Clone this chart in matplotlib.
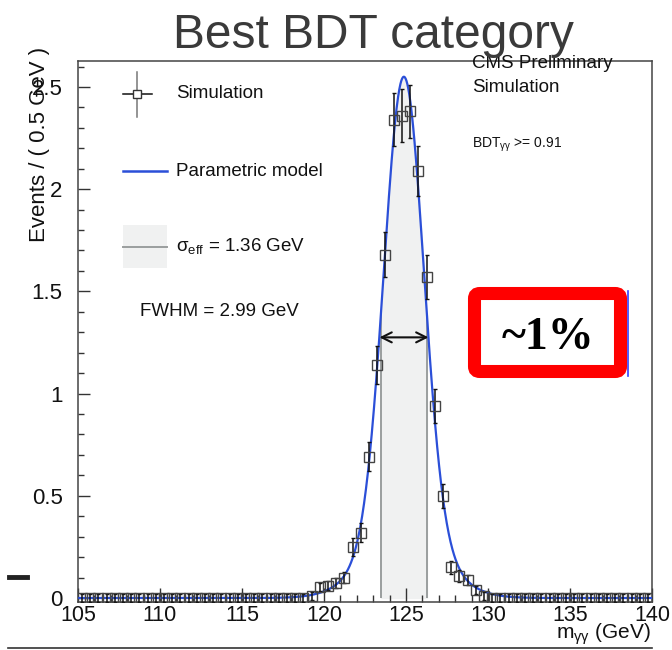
import numpy as np
import matplotlib
matplotlib.use('Agg')
import matplotlib.pyplot as plt
from matplotlib.lines import Line2D
from matplotlib.patches import FancyBboxPatch, Rectangle

plt.rcParams['font.family'] = ['Liberation Sans', 'DejaVu Sans']
plt.rcParams['mathtext.fontset'] = 'custom'
plt.rcParams['mathtext.rm'] = 'Liberation Sans'

# simulated diphoton mass histogram, 0.5 GeV bins from 105 to 140
bin_lo, bin_hi, bin_w = 105.0, 140.0, 0.5
peak_centers = [118.75, 119.25, 119.75, 120.25, 120.75, 121.25, 121.75, 122.25,
                122.75, 123.25, 123.75, 124.25, 124.75, 125.25, 125.75, 126.25,
                126.75, 127.25, 127.75, 128.25, 128.75, 129.25, 129.75, 130.25]
peak_values = [0.0, 0.01, 0.054, 0.06, 0.073, 0.098, 0.25, 0.32,
               0.69, 1.14, 1.68, 2.34, 2.36, 2.38, 2.09, 1.57,
               0.94, 0.50, 0.15, 0.108, 0.088, 0.039, 0.01, 0.0]
peak_errors = [0.018, 0.018, 0.02, 0.021, 0.023, 0.027, 0.043, 0.048,
               0.071, 0.091, 0.11, 0.13, 0.13, 0.13, 0.123, 0.107,
               0.083, 0.06, 0.033, 0.028, 0.025, 0.018, 0.018, 0.018]
empty_error = 0.018

# parametric model (double gaussian)
model_mu = 124.87
core_amp, core_sigma = 2.25, 1.2
tail_amp, tail_sigma = 0.30, 2.3
sigma_eff_lo, sigma_eff_hi = 123.48, 126.28
fwhm_lo, fwhm_hi = 123.38, 126.37

x_ticks = [105, 110, 115, 120, 125, 130, 135, 140]
y_ticks = [0, 0.5, 1, 1.5, 2, 2.5]
y_tick_labels = ['0', '0.5', '1', '1.5', '2', '2.5']


def model(m):
    d = np.asarray(m) - model_mu
    return (core_amp * np.exp(-d ** 2 / (2 * core_sigma ** 2))
            + tail_amp * np.exp(-d ** 2 / (2 * tail_sigma ** 2)))


def fx(px):
    return px / 672.0


def fy(py):
    return 1 - py / 650.0


def main():
    centers = np.arange(bin_lo + bin_w / 2, bin_hi, bin_w)
    values = np.zeros(len(centers))
    errors = np.full(len(centers), empty_error)
    for c, v, e in zip(peak_centers, peak_values, peak_errors):
        i = int(round((c - bin_lo - bin_w / 2) / bin_w))
        values[i] = v
        errors[i] = e

    fig = plt.figure(figsize=(6.72, 6.5), dpi=100)
    ax = fig.add_axes([fx(78), fy(602), 574 / 672.0, 541 / 650.0])

    blue = '#2b4fd8'
    # sigma_eff band
    xb = np.linspace(sigma_eff_lo, sigma_eff_hi, 200)
    ax.fill_between(xb, 0, model(xb), color='#f0f1f1', zorder=1)
    ax.vlines([sigma_eff_lo, sigma_eff_hi], 0, model([sigma_eff_lo, sigma_eff_hi]),
              color='#9a9e9e', lw=1.4, zorder=2)

    xm = np.linspace(bin_lo, bin_hi, 1500)
    ax.plot(xm, model(xm), color=blue, lw=1.6, zorder=3)

    ax.errorbar(centers, values, yerr=errors, fmt='s', ms=7, mfc='none',
                mec='#444444', mew=1.0, ecolor='#111111', elinewidth=1.1,
                capsize=1.6, capthick=1.0, zorder=4)

    half = model(model_mu) / 2
    ax.annotate('', xy=(fwhm_lo, half), xytext=(fwhm_hi, half),
                arrowprops=dict(arrowstyle='<->', color='#111111', lw=1.5,
                                mutation_scale=18, shrinkA=0, shrinkB=0), zorder=5)

    ax.set_xlim(bin_lo, bin_hi)
    ax.set_ylim(-0.0196, 2.627)
    ax.set_xticks(x_ticks)
    ax.set_xticks(np.arange(105, 141, 1), minor=True)
    ax.set_yticks(y_ticks)
    ax.set_yticklabels(y_tick_labels)
    ax.set_yticks(np.arange(0, 2.61, 0.1), minor=True)
    ax.tick_params(axis='x', which='major', direction='in', length=10, width=1,
                   labelsize=15.5, pad=2, colors='#333333', labelcolor='#111111')
    ax.tick_params(axis='x', which='minor', direction='in', length=5, width=1,
                   colors='#333333')
    ax.tick_params(axis='y', which='major', direction='in', length=8.5, width=1,
                   labelsize=16, pad=11, colors='#333333', labelcolor='#111111')
    ax.tick_params(axis='y', which='minor', direction='in', length=4.3, width=1,
                   colors='#333333')
    for s in ax.spines.values():
        s.set_color('#444444')
        s.set_linewidth(1.1)

    # legend drawn by hand
    fig.add_artist(Line2D([fx(123), fx(152)], [fy(94)] * 2, color='#111111', lw=1.1))
    fig.add_artist(Line2D([fx(137)] * 2, [fy(72), fy(117)], color='#777777', lw=1.1))
    fig.add_artist(Line2D([fx(137)], [fy(94)], marker='s', ms=6, mfc='white',
                          mec='#333333', mew=1.0))
    fig.text(fx(176), fy(94), 'Simulation', fontsize=13.5, va='center', color='#111111')
    fig.add_artist(Line2D([fx(123), fx(167)], [fy(171)] * 2, color=blue, lw=1.8))
    fig.text(fx(176), fy(171), 'Parametric model', fontsize=13.5, va='center', color='#111111')
    fig.add_artist(Rectangle((fx(123), fy(268)), fx(167) - fx(123), fy(225) - fy(268),
                             transform=fig.transFigure, fc='#f0f1f1', ec='none'))
    fig.add_artist(Line2D([fx(123), fx(167)], [fy(247)] * 2, color='#9a9e9e', lw=1.4))
    fig.text(fx(176), fy(247), r'σ$_{\mathregular{eff}}$ = 1.36 GeV', fontsize=13.5,
             va='center', color='#111111')
    fig.text(fx(140), fy(312), 'FWHM = 2.99 GeV', fontsize=13.5, va='center', color='#111111')

    fig.text(fx(472), fy(63), 'CMS Preliminary', fontsize=13.5, va='center', color='#111111')
    fig.text(fx(472), fy(87), 'Simulation', fontsize=13.5, va='center', color='#111111')
    fig.text(fx(472), fy(145), r'BDT$_{\mathregular{γγ}}$ >= 0.91', fontsize=10,
             va='center', color='#111111')

    fig.text(fx(40), fy(47), 'Events / ( 0.5 GeV )', rotation=90, fontsize=16,
             ha='center', va='top', color='#111111')
    fig.text(fx(651), fy(634), r'm$_{\mathregular{γγ}}$ (GeV)', fontsize=15,
             ha='right', va='center', color='#111111')

    fig.text(fx(373), fy(48), 'Best BDT category', fontsize=34.5, ha='center',
             va='baseline', color='#3a3a3a')

    # red callout box
    fig.add_artist(Line2D([fx(628)] * 2, [fy(291), fy(376)], color='#3040ff', lw=1.2))
    fig.add_artist(FancyBboxPatch((fx(474.5), fy(371.5)), fx(620.5) - fx(474.5),
                                  fy(293.5) - fy(371.5),
                                  boxstyle='round,pad=0,rounding_size=0.008',
                                  transform=fig.transFigure, fc='white', ec='#ff0000',
                                  lw=9.4))
    fig.text(fx(548), fy(338), '~1%', fontsize=33, fontweight='bold',
             family=['Liberation Serif', 'DejaVu Serif'], ha='center', va='center',
             color='black')

    # slide leftovers
    fig.add_artist(Line2D([fx(9), fx(27)], [fy(577)] * 2, color='#222222', lw=3.5))
    fig.add_artist(Line2D([fx(8), fx(652)], [fy(648)] * 2, color='#333333', lw=1.2))

    fig.savefig('out.png', dpi=100)


if __name__ == '__main__':
    main()
